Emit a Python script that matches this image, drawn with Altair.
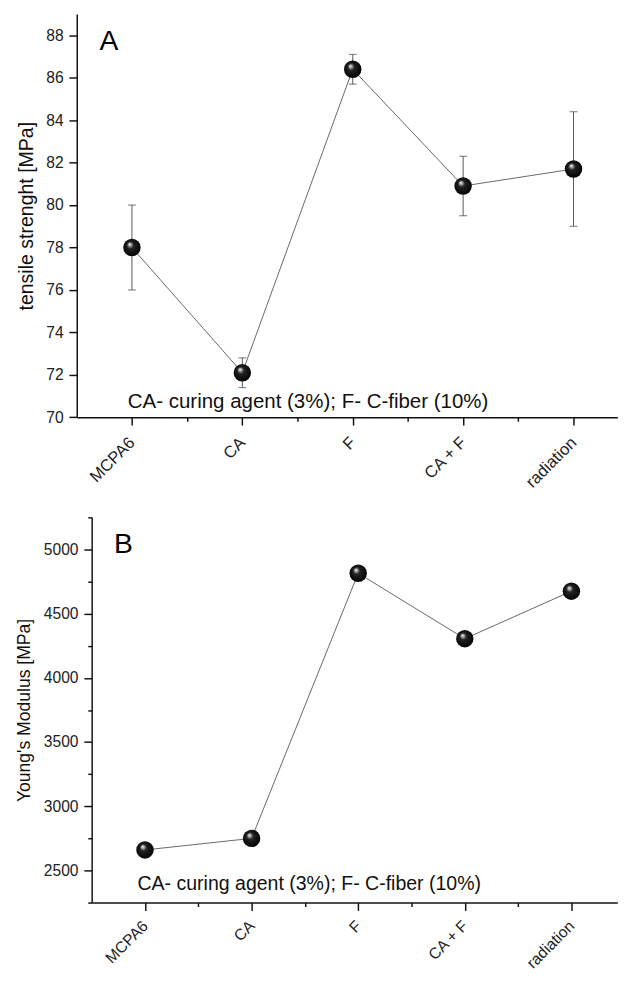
import json
import altair as alt
import pandas as pd

# ---------------- data ----------------
categories = ["MCPA6", "CA", "F", "CA + F", "radiation"]
tensile = [78.0, 72.1, 86.4, 80.9, 81.7]
tensile_low = [76.0, 71.4, 85.7, 79.5, 79.0]
tensile_high = [80.0, 72.8, 87.1, 82.3, 84.4]
modulus = [2660, 2750, 4815, 4305, 4675]

note = "CA- curing agent (3%); F- C-fiber (10%)"

FONT = "Liberation Sans"

dfA = pd.DataFrame({"idx": list(range(len(categories))), "cat": categories,
                    "val": tensile, "lo": tensile_low, "hi": tensile_high})
dfB = pd.DataFrame({"idx": list(range(len(categories))), "cat": categories,
                    "val": modulus})

cat_js = json.dumps(categories)
x_tick_values = [i * 0.5 for i in range(0, 2 * len(categories) - 1)]

sphere = alt.RadialGradient(
    gradient="radial",
    x1=0.36, y1=0.30, r1=0.0,
    x2=0.5, y2=0.5, r2=0.55,
    stops=[
        alt.GradientStop(offset=0.0, color="#ffffff"),
        alt.GradientStop(offset=0.12, color="#bbbbbb"),
        alt.GradientStop(offset=0.35, color="#222222"),
        alt.GradientStop(offset=1.0, color="#000000"),
    ],
)

PANEL_W = 539
A_H = 413.4
B_H = 395


def make_x(xmax, fs, rng, pad):
    return alt.X(
        "idx:Q",
        scale=alt.Scale(domain=[-0.5, xmax], range=rng, nice=False, zero=False),
        axis=alt.Axis(
            values=x_tick_values,
            labelExpr=f"datum.value % 1 === 0 ? {cat_js}[datum.value] : ''",
            tickSize={"condition": {"test": "datum.value % 1 === 0", "value": 8}, "value": 4},
            labelAngle=-45,
            labelAlign="right",
            labelBaseline="middle",
            labelPadding=pad,
            labelFontSize=fs,
            labelFont=FONT,
            labelColor="#222",
            title=None,
            grid=False,
            domainColor="#111",
            domainWidth=1.5,
            tickColor="#111",
            tickWidth=1.5,
            labelOverlap=False,
            labelBound=False,
            labelFlush=False,
        ),
    )


def make_y(field, domain, values, major, title, title_fs, offset):
    return alt.Y(
        f"{field}:Q",
        scale=alt.Scale(domain=domain, nice=False, zero=False),
        axis=alt.Axis(
            values=values,
            format="d",
            offset=offset,
            labelExpr=f"datum.value % {major} === 0 ? datum.label : ''",
            tickSize={"condition": {"test": f"datum.value % {major} === 0", "value": 8}, "value": 4},
            labelPadding=6,
            labelFontSize=16,
            labelFont=FONT,
            labelColor="#222",
            title=title,
            titleFont=FONT,
            titleFontSize=title_fs,
            titleFontWeight="normal",
            titleColor="#111",
            titlePadding=10,
            grid=False,
            domainColor="#111",
            domainWidth=1.5,
            tickColor="#111",
            tickWidth=1.5,
            labelOverlap=False,
            labelFlush=False,
        ),
    )


def annotations(letter, letter_x, note_x, note_y, note_fs):
    letter_layer = alt.Chart(pd.DataFrame({"t": [letter]})).mark_text(
        align="left", baseline="alphabetic", fontSize=29, font=FONT, color="#000"
    ).encode(text="t:N", x=alt.value(letter_x), y=alt.value(37))
    note_layer = alt.Chart(pd.DataFrame({"t": [note]})).mark_text(
        align="left", baseline="alphabetic", fontSize=note_fs, font=FONT, color="#111"
    ).encode(text="t:N", x=alt.value(note_x), y=alt.value(note_y))
    return letter_layer, note_layer


# ---------------- panel A ----------------
A_SHIFT = 15.3
xA = make_x(4.397, 17, [-A_SHIFT, PANEL_W], 15)
yA = make_y("val", [70, 89], list(range(70, 90)), 2, "tensile strenght [MPa]", 20, A_SHIFT)
baseA = alt.Chart(dfA)
lineA = baseA.mark_line(color="#666", strokeWidth=1).encode(x=xA, y=yA)
errA = baseA.mark_rule(color="#555", strokeWidth=1).encode(x=xA, y=alt.Y("lo:Q"), y2="hi:Q")
capLoA = baseA.mark_tick(orient="horizontal", size=8, thickness=1.2, color="#555").encode(x=xA, y=alt.Y("lo:Q"))
capHiA = baseA.mark_tick(orient="horizontal", size=8, thickness=1.2, color="#555").encode(x=xA, y=alt.Y("hi:Q"))
ptsA = baseA.mark_point(shape="circle", filled=True, fill=sphere, size=320, opacity=1,
                        strokeWidth=0).encode(x=xA, y=yA)
letA, noteA = annotations("A", 8, 37, A_H - 10, 21)
panelA = alt.layer(lineA, errA, capLoA, capHiA, ptsA, letA, noteA).properties(width=PANEL_W, height=A_H)

# ---------------- panel B ----------------
xB = make_x(4.431, 16, [0, PANEL_W], 13)
yB = make_y("val", [2250, 5250], list(range(2250, 5251, 250)), 500, "Young's Modulus [MPa]", 18, 0)
baseB = alt.Chart(dfB)
lineB = baseB.mark_line(color="#666", strokeWidth=1).encode(x=xB, y=yB)
ptsB = baseB.mark_point(shape="circle", filled=True, fill=sphere, size=320, opacity=1,
                        strokeWidth=0).encode(x=xB, y=yB)
letB, noteB = annotations("B", 23, 47, B_H - 12.5, 20)
panelB = alt.layer(lineB, ptsB, letB, noteB).properties(width=PANEL_W, height=B_H)

chart = alt.vconcat(panelA, panelB, spacing=102, bounds="flush").properties(
    padding={"left": 16, "top": 2, "right": -2, "bottom": 0},
    background="white",
).configure(font=FONT).configure_view(strokeWidth=0)

chart.save("out.html", embed_options={"renderer": "svg", "actions": False})
